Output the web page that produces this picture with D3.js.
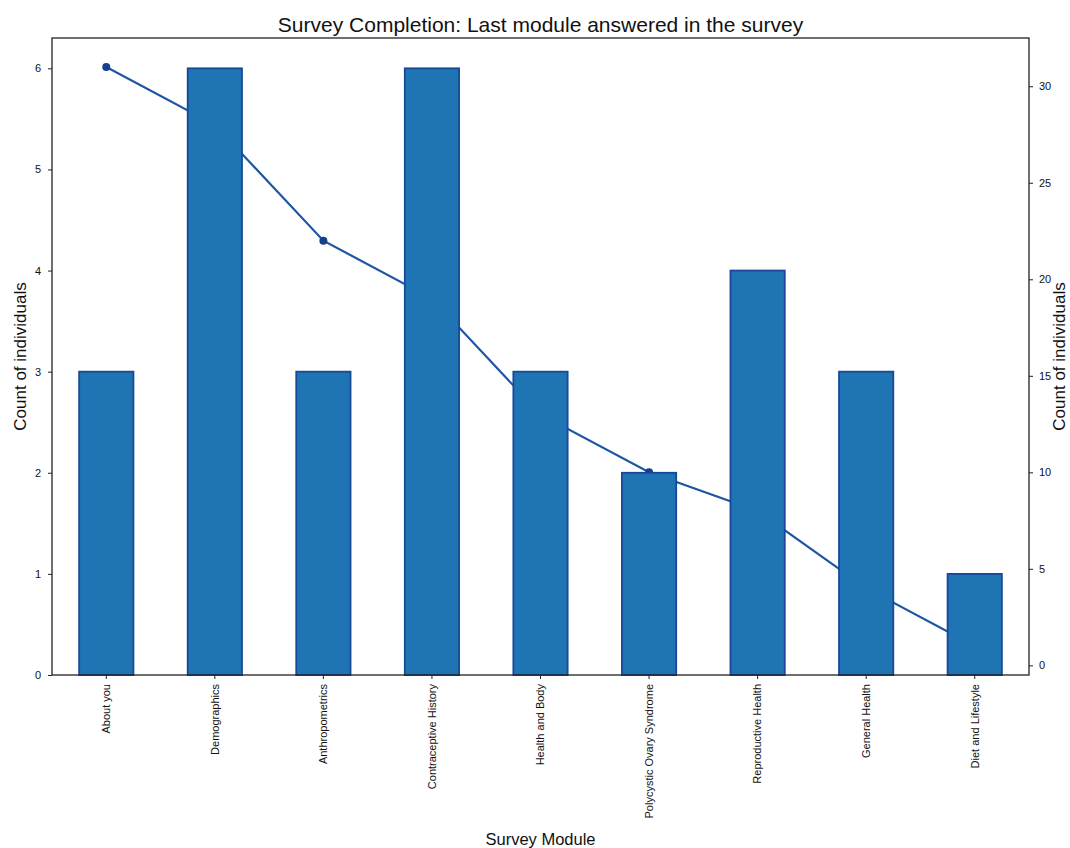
<!DOCTYPE html>
<html>
<head>
<meta charset="utf-8">
<script src="https://cdn.jsdelivr.net/npm/d3@7"></script>
<style>
  html, body { margin: 0; padding: 0; background: #fff; }
  svg { display: block; font-family: "Liberation Sans", Arial, sans-serif; }
</style>
</head>
<body>
<svg id="chart" width="1070" height="848"></svg>
<script>
// Survey modules (in survey order)
const modules = [
  "About you", "Demographics", "Anthropometrics", "Contraceptive History",
  "Health and Body", "Polycystic Ovary Syndrome", "Reproductive Health",
  "General Health", "Diet and Lifestyle"
];
// Individuals whose last answered module is this one (left axis)
const lastAnswered = [3, 6, 3, 6, 3, 2, 4, 3, 1];
// Individuals still in the survey when reaching this module (right axis)
const stillAnswering = [31, 28, 22, 19, 13, 10, 8, 4, 1];
const leftTicks = [0, 1, 2, 3, 4, 5, 6];
const rightTicks = [0, 5, 10, 15, 20, 25, 30];

const svg = d3.select("#chart");
const m = { left: 52, right: 1029, top: 38, bottom: 675 };

const x = d3.scaleBand().domain(modules).range([m.left, m.right]).paddingInner(0.5).paddingOuter(0.25);
const yL = d3.scaleLinear().domain([0, 6.3]).range([m.bottom, m.top]);
const yR = d3.scaleLinear().domain([-0.5, 32.5]).range([m.bottom, m.top]);
const cx = d => x(d) + x.bandwidth() / 2;

const lineColor = "#1d56a3";

// Remaining-respondents line, drawn beneath the bars
const g = svg.append("g");
g.append("path")
  .datum(modules.map((d, i) => [cx(d), yR(stillAnswering[i])]))
  .attr("fill", "none")
  .attr("stroke", lineColor)
  .attr("stroke-width", 2.2)
  .attr("d", d3.line());
g.selectAll("circle").data(modules).join("circle")
  .attr("cx", d => cx(d))
  .attr("cy", (d, i) => yR(stillAnswering[i]))
  .attr("r", 4)
  .attr("fill", "#163f8c");

// Bars
svg.append("g").selectAll("rect").data(modules).join("rect")
  .attr("x", d => x(d))
  .attr("width", x.bandwidth())
  .attr("y", (d, i) => yL(lastAnswered[i]))
  .attr("height", (d, i) => yL(0) - yL(lastAnswered[i]))
  .attr("fill", "#1f74b3")
  .attr("stroke", "#19489a")
  .attr("stroke-width", 1.8);

// Frame
svg.append("rect")
  .attr("x", m.left).attr("y", m.top)
  .attr("width", m.right - m.left).attr("height", m.bottom - m.top)
  .attr("fill", "none").attr("stroke", "#222").attr("stroke-width", 1.3);

// Axes
const styleAxis = sel => {
  sel.select(".domain").remove();
  sel.selectAll(".tick line").attr("stroke", "#222");
  sel.selectAll(".tick text").attr("fill", "#111").style("font-size", "11px")
    .style("font-family", "'Liberation Sans', Arial, sans-serif");
};

svg.append("g").attr("transform", `translate(${m.left},0)`)
  .call(d3.axisLeft(yL).tickValues(leftTicks).tickFormat(d3.format("d")).tickSize(4).tickPadding(7))
  .call(styleAxis);

svg.append("g").attr("transform", `translate(${m.right},0)`)
  .call(d3.axisRight(yR).tickValues(rightTicks).tickFormat(d3.format("d")).tickSize(4).tickPadding(6))
  .call(styleAxis);

const xAxis = svg.append("g").attr("transform", `translate(0,${m.bottom})`)
  .call(d3.axisBottom(x).tickSize(4).tickPadding(6))
  .call(styleAxis);
xAxis.selectAll(".tick text")
  .attr("transform", "rotate(-90)")
  .attr("text-anchor", "end")
  .attr("x", -9).attr("y", 0).attr("dy", "0.35em");

// Titles
svg.append("text")
  .attr("x", (m.left + m.right) / 2).attr("y", 32)
  .attr("text-anchor", "middle")
  .style("font-size", "21px").attr("fill", "#111")
  .text("Survey Completion: Last module answered in the survey");

svg.append("text")
  .attr("x", (m.left + m.right) / 2).attr("y", 845)
  .attr("text-anchor", "middle")
  .style("font-size", "16.5px").attr("fill", "#111")
  .text("Survey Module");

svg.append("text")
  .attr("transform", `translate(26,${(m.top + m.bottom) / 2}) rotate(-90)`)
  .attr("text-anchor", "middle")
  .style("font-size", "17px").attr("fill", "#111")
  .text("Count of individuals");

svg.append("text")
  .attr("transform", `translate(1065,${(m.top + m.bottom) / 2}) rotate(-90)`)
  .attr("text-anchor", "middle")
  .style("font-size", "17px").attr("fill", "#111")
  .text("Count of individuals");
</script>
</body>
</html>
